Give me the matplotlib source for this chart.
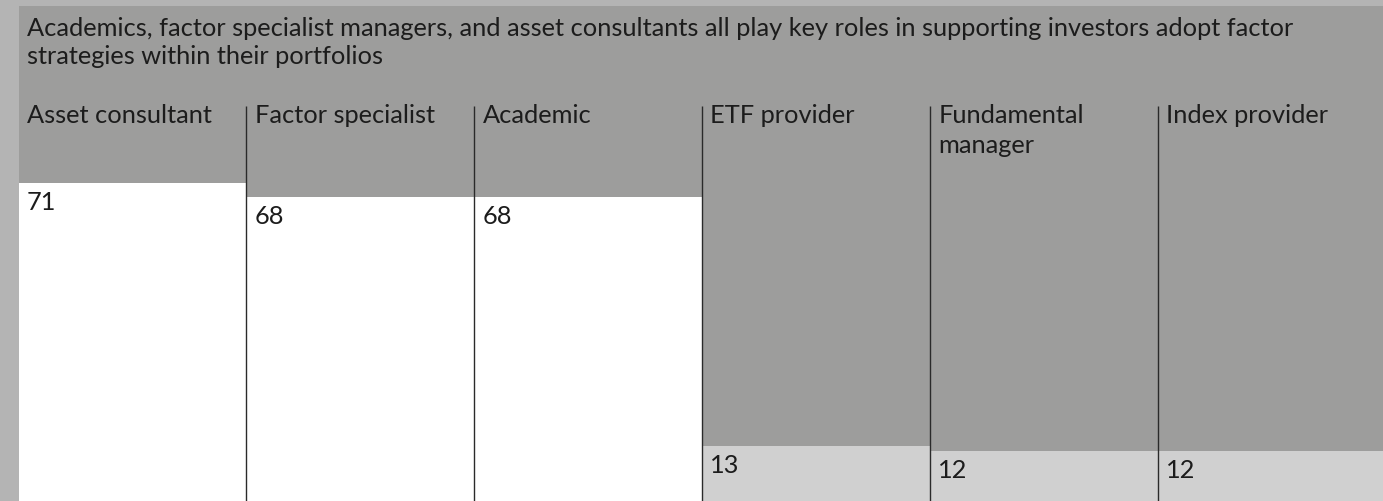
import matplotlib
matplotlib.use("Agg")
import matplotlib.pyplot as plt
import matplotlib.transforms as mtransforms

# ---- data ----
title = ("Academics, factor specialist managers, and asset consultants all play key roles in supporting investors adopt factor\n"
         "strategies within their portfolios")
categories = ["Asset consultant", "Factor specialist", "Academic", "ETF provider", "Fundamental\nmanager", "Index provider"]
values = [71, 68, 68, 13, 12, 12]
bar_colors = ["#ffffff", "#ffffff", "#ffffff", "#d0d0d0", "#d0d0d0", "#d0d0d0"]

W, H, DPI = 1383, 501, 100
FONT = "Lato"
FS = 18.3

fig = plt.figure(figsize=(W / DPI, H / DPI), dpi=DPI, facecolor="#b4b4b4")

# axes geometry in pixels
left_px, right_px = 18.5, 18.5 + 6 * 227.8
top_px, base_px = 6, 505
px_per_unit = 4.534
ax = fig.add_axes([left_px / W, (H - base_px) / H, (right_px - left_px) / W, (base_px - top_px) / H])
ax.set_facecolor("#9d9d9c")
ax.set_xlim(0, len(categories))
ax.set_ylim(0, (base_px - top_px) / px_per_unit)
for s in ax.spines.values():
    s.set_visible(False)
ax.set_xticks([])
ax.set_yticks([])

xs = list(range(len(categories)))
ax.bar(xs, values, width=1.0, align="edge", color=bar_colors, edgecolor="none", zorder=1)

# divider lines
line_top_axes = (base_px - 106) / (base_px - top_px)
blend = mtransforms.blended_transform_factory(ax.transData, ax.transAxes)
ax.vlines(xs[1:], 0, line_top_axes, transform=blend, colors="#2a2a2a", linewidth=1.0, zorder=3)

txt_color = "#1c1c1c"
for i, (cat, v) in enumerate(zip(categories, values)):
    off = mtransforms.offset_copy(blend, fig=fig, x=8.5 * 72 / DPI, y=0, units="points")
    ax.text(i, (base_px - 104) / (base_px - top_px), cat, transform=off, ha="left", va="top",
            fontsize=FS, family=FONT, color=txt_color, linespacing=1.36)
    off2 = mtransforms.offset_copy(ax.transData, fig=fig, x=8.5 * 72 / DPI, y=-8 * 72 / DPI, units="points")
    ax.text(i, v, str(v), transform=off2, ha="left", va="top",
            fontsize=FS, family=FONT, color=txt_color)

fig.text(27 / W, 1 - 16.5 / H, title, ha="left", va="top", fontsize=FS, family=FONT,
         color=txt_color, linespacing=1.3)

fig.savefig("out.png", dpi=DPI, facecolor=fig.get_facecolor())
